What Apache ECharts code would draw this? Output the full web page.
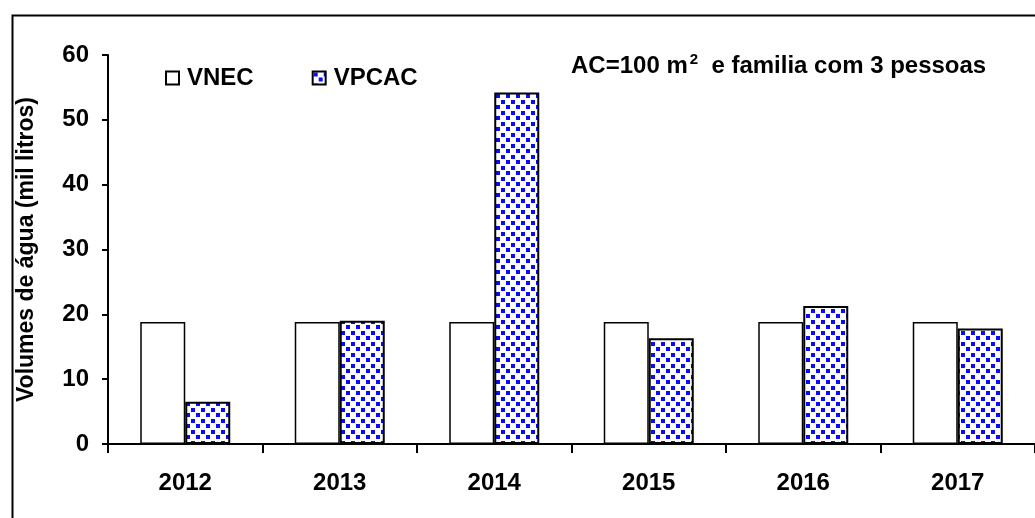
<!DOCTYPE html>
<html>
<head>
<meta charset="utf-8">
<script src="https://cdn.jsdelivr.net/npm/echarts@6/dist/echarts.min.js"></script>
<style>
  html, body { margin: 0; padding: 0; background: #ffffff; }
  #chart { width: 1035px; height: 518px; }
</style>
</head>
<body>
<div id="chart"></div>
<script>
// Anos e volumes (mil litros)
const years = ['2012', '2013', '2014', '2015', '2016', '2017'];
const vnec = [18.8, 18.8, 18.8, 18.8, 18.8, 18.8];
const vpcac = [6.5, 19.0, 54.2, 16.3, 21.3, 17.8];
const yTicks = { min: 0, max: 60, interval: 10 };

// Padrão de quadrados azuis (em quincôncio) para a série VPCAC
function makeDotPattern() {
  const c = document.createElement('canvas');
  c.width = 10; c.height = 11;
  const ctx = c.getContext('2d');
  ctx.fillStyle = '#ffffff';
  ctx.fillRect(0, 0, 10, 11);
  ctx.fillStyle = '#0a0aff';
  ctx.fillRect(1, 1, 4, 4);
  ctx.fillRect(6, 6, 4, 4);
  return c;
}
const dotPattern = { image: makeDotPattern(), repeat: 'repeat' };

const font = '"Liberation Sans", Arial, sans-serif';
const chart = echarts.init(document.getElementById('chart'), null, { renderer: 'canvas' });

chart.setOption({
  backgroundColor: '#ffffff',
  animation: false,
  textStyle: { fontFamily: font },
  grid: { left: 108, top: 55, width: 932, height: 389, containLabel: false },
  legend: {
    left: 160,
    top: 61,
    itemWidth: 13,
    itemHeight: 13,
    itemGap: 58,
    icon: 'rect',
    textStyle: { fontFamily: font, fontWeight: 'bold', fontSize: 24, color: '#000', padding: [0, 0, 0, 3] },
    data: ['VNEC', 'VPCAC']
  },
  xAxis: {
    type: 'category',
    data: years,
    axisLine: { lineStyle: { color: '#000', width: 2 } },
    axisTick: { show: true, alignWithLabel: false, interval: 0, length: 9, lineStyle: { color: '#000', width: 2 } },
    axisLabel: { fontFamily: font, fontWeight: 'bold', fontSize: 24, color: '#000', margin: 27 },
    splitLine: { show: false }
  },
  yAxis: {
    type: 'value',
    min: yTicks.min,
    max: yTicks.max,
    interval: yTicks.interval,
    name: 'Volumes de água (mil litros)',
    nameLocation: 'middle',
    nameGap: 70,
    nameTextStyle: { fontFamily: font, fontWeight: 'bold', fontSize: 23, color: '#000' },
    axisLine: { show: true, lineStyle: { color: '#000', width: 2 } },
    axisTick: { show: true, length: 6, lineStyle: { color: '#000', width: 2 } },
    axisLabel: { fontFamily: font, fontWeight: 'bold', fontSize: 24, color: '#000', margin: 19 },
    splitLine: { show: false }
  },
  series: [
    {
      name: 'VNEC',
      type: 'bar',
      data: vnec,
      barWidth: 45,
      barGap: '0%',
      itemStyle: { color: '#ffffff', borderColor: '#000', borderWidth: 1.5 }
    },
    {
      name: 'VPCAC',
      type: 'bar',
      data: vpcac,
      barWidth: 45,
      barGap: '0%',
      itemStyle: { color: dotPattern, borderColor: '#000', borderWidth: 2 }
    }
  ],
  graphic: [
    {
      type: 'rect',
      left: 10, top: 13,
      shape: { x: 0, y: 0, width: 1100, height: 600 },
      style: { fill: 'none', stroke: '#000', lineWidth: 2 },
      silent: true, z: 100
    },
    {
      type: 'text',
      left: 571, top: 52,
      style: {
        text: '{a|AC=100 m}{s|2}{a|  e familia com 3 pessoas}',
        rich: {
          a: { fontFamily: font, fontWeight: 'bold', fontSize: 24, fill: '#000', lineHeight: 28 },
          s: { fontFamily: font, fontWeight: 'bold', fontSize: 15, fill: '#000', verticalAlign: 'top', lineHeight: 28, padding: [0, 0, 12, 2] }
        }
      }
    }
  ]
});
</script>
</body>
</html>
